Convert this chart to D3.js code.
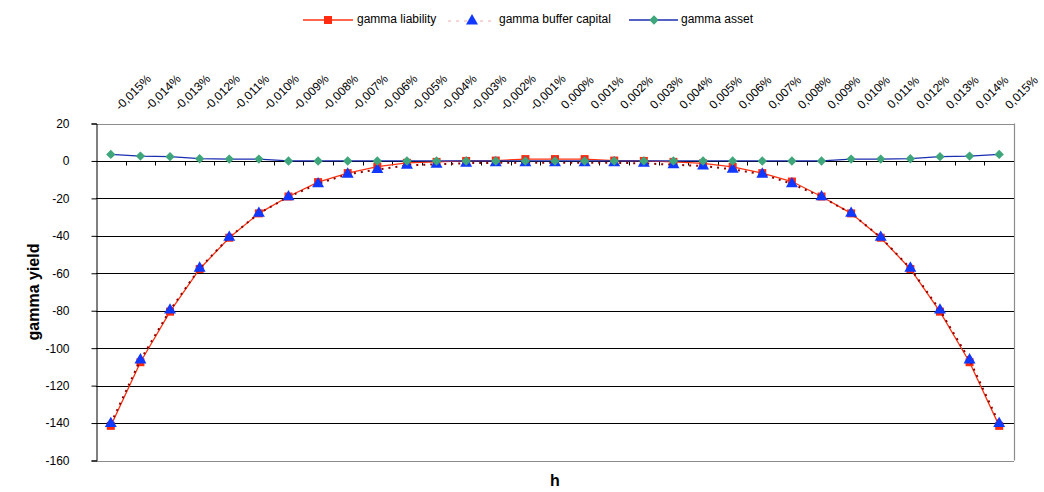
<!DOCTYPE html>
<html>
<head>
<meta charset="utf-8">
<script src="https://cdn.jsdelivr.net/npm/d3@7"></script>
<style>
  html, body { margin: 0; padding: 0; background: #fff; }
  svg { display: block; font-family: "Liberation Sans", Arial, sans-serif; }
</style>
</head>
<body>
<svg id="chart" width="1044" height="492"></svg>
<script>
const categories = ["-0,015%","-0,014%","-0,013%","-0,012%","-0,011%","-0,010%","-0,009%","-0,008%","-0,007%","-0,006%","-0,005%","-0,004%","-0,003%","-0,002%","-0,001%","0,000%","0,001%","0,002%","0,003%","0,004%","0,005%","0,006%","0,007%","0,008%","0,009%","0,010%","0,011%","0,012%","0,013%","0,014%","0,015%"];
const gammaLiability = [-141.5,-107.5,-80.5,-57.7,-41,-28,-19,-11.3,-6.5,-3,-1,-0.5,0,0.2,1,1,1,0.2,0,-0.5,-1.3,-3.2,-6.5,-11,-19,-28,-41,-57.7,-80.5,-107.5,-141.5];
const gammaBuffer = [-140.3,-106.3,-79.7,-57.3,-40.8,-28,-19.2,-12.2,-7.1,-4.6,-2.3,-1.8,-1.2,-1,-1,-1,-1,-1,-1.3,-2,-2.7,-4.5,-7.1,-12.2,-19.2,-28,-40.8,-57.3,-79.7,-106.3,-140.3];
const gammaAsset = [3.5,2.6,2.3,1.2,1,1,0,0,0,0,0,0,0,0,0,0,0,0,0,0,0,0,0,0,0,1,1,1.2,2.3,2.6,3.5];
const yTicks = [20,0,-20,-40,-60,-80,-100,-120,-140,-160];
const seriesNames = ["gamma liability","gamma buffer capital","gamma asset"];

const svg = d3.select("#chart");
const L = 96, R = 1014, T = 123.5, B = 460.5;

const x = d3.scaleBand().domain(categories).range([L, R]).padding(0);
const y = d3.scaleLinear().domain([-160, 20]).range([B, T]);
const cx = c => x(c) + x.bandwidth() / 2;

// gridlines
svg.append("g").selectAll("line")
  .data(yTicks.filter(v => v < 20 && v > -160))
  .join("line")
  .attr("x1", L).attr("x2", R)
  .attr("y1", d => Math.round(y(d)) + 0.5).attr("y2", d => Math.round(y(d)) + 0.5)
  .attr("stroke", "#000").attr("stroke-width", 1);

// plot border (gray)
svg.append("line").attr("x1", L).attr("x2", R).attr("y1", Math.round(T)+0.5).attr("y2", Math.round(T)+0.5).attr("stroke", "#8c8c8c").attr("stroke-width", 1.2);
svg.append("line").attr("x1", L).attr("x2", R).attr("y1", Math.round(B)+0.5).attr("y2", Math.round(B)+0.5).attr("stroke", "#8c8c8c").attr("stroke-width", 1.2);
svg.append("line").attr("x1", R+0.5).attr("x2", R+0.5).attr("y1", T).attr("y2", B).attr("stroke", "#8c8c8c").attr("stroke-width", 1.2);

// y axis
const yAxis = d3.axisLeft(y).tickValues(yTicks).tickSize(5).tickPadding(22).tickFormat(d3.format("d"));
const gy = svg.append("g").attr("transform", `translate(${L + 0.5},0)`).call(yAxis);
gy.select(".domain").attr("stroke", "#000");
gy.selectAll(".tick line").attr("stroke", "#000");
gy.selectAll(".tick text").attr("font-size", 12).attr("fill", "#000")
  .attr("font-family", "Liberation Sans, Arial, sans-serif")
  .text(d => d < 0 ? "-" + Math.abs(d) : d);

// x axis line at zero with ticks downward at category boundaries
const y0 = Math.round(y(0)) + 0.5;
svg.append("line").attr("x1", L).attr("x2", R).attr("y1", y0).attr("y2", y0).attr("stroke", "#000").attr("stroke-width", 1.2);
svg.append("g").selectAll("line")
  .data(categories.slice(1))
  .join("line")
  .attr("x1", d => Math.round(x(d)) + 0.5).attr("x2", d => Math.round(x(d)) + 0.5)
  .attr("y1", y0).attr("y2", y0 + 4)
  .attr("stroke", "#000").attr("stroke-width", 1);

// x labels at top, rotated
svg.append("g").selectAll("text")
  .data(categories)
  .join("text")
  .attr("transform", d => `translate(${cx(d) + 23},${93}) rotate(-45)`)
  .attr("text-anchor", "middle")
  .attr("dominant-baseline", "middle")
  .attr("font-size", 12)
  .attr("fill", "#000")
  .text(d => d);

// series
const lineGen = arr => d3.line().x((d, i) => cx(categories[i])).y(d => y(d))(arr);

// liability
svg.append("path").attr("d", lineGen(gammaLiability)).attr("fill", "none")
  .attr("stroke", "#ff3311").attr("stroke-width", 1.3);
svg.append("g").selectAll("rect").data(gammaLiability).join("rect")
  .attr("x", (d, i) => cx(categories[i]) - 4).attr("y", d => y(d) - 4)
  .attr("width", 8).attr("height", 8).attr("fill", "#ff2a10");

// buffer capital
svg.append("path").attr("d", lineGen(gammaBuffer)).attr("fill", "none")
  .attr("stroke", "#8b0000").attr("stroke-width", 2).attr("stroke-dasharray", "2,5");
const tri = d3.symbol().type(d3.symbolTriangle).size(62);
svg.append("g").selectAll("path").data(gammaBuffer).join("path")
  .attr("d", tri)
  .attr("transform", (d, i) => `translate(${cx(categories[i])},${y(d)})`)
  .attr("fill", "#1038ff");

// asset
svg.append("path").attr("d", lineGen(gammaAsset)).attr("fill", "none")
  .attr("stroke", "#1a2eb0").attr("stroke-width", 1.3);
const dia = d3.symbol().type(d3.symbolSquare).size(44);
svg.append("g").selectAll("path").data(gammaAsset).join("path")
  .attr("d", dia)
  .attr("transform", (d, i) => `translate(${cx(categories[i])},${y(d)}) rotate(45)`)
  .attr("fill", "#3fa57a");

// axis titles
svg.append("text").attr("transform", "translate(39,292) rotate(-90)")
  .attr("text-anchor", "middle").attr("font-size", 16).attr("font-weight", "bold")
  .text("gamma yield");
svg.append("text").attr("x", (L + R) / 2).attr("y", 492 - 6)
  .attr("text-anchor", "middle").attr("font-size", 16).attr("font-weight", "bold")
  .text("h");

// legend
const lg = svg.append("g");
const ly = 20;
// liability
lg.append("line").attr("x1", 303).attr("x2", 353).attr("y1", ly).attr("y2", ly).attr("stroke", "#ff3311").attr("stroke-width", 1.3);
lg.append("rect").attr("x", 324).attr("y", ly - 4).attr("width", 8).attr("height", 8).attr("fill", "#ff2a10");
lg.append("text").attr("x", 357).attr("y", ly + 3).attr("font-size", 12).text(seriesNames[0]);
// buffer
lg.append("line").attr("x1", 448).attr("x2", 495).attr("y1", ly + 1).attr("y2", ly + 1).attr("stroke", "#f2a8a8").attr("stroke-width", 1).attr("stroke-dasharray", "3,5");
lg.append("path").attr("d", tri).attr("transform", `translate(472,${ly + 1})`).attr("fill", "#1038ff");
lg.append("text").attr("x", 499).attr("y", ly + 3).attr("font-size", 12).text(seriesNames[1]);
// asset
lg.append("line").attr("x1", 629).attr("x2", 678).attr("y1", ly).attr("y2", ly).attr("stroke", "#1a2eb0").attr("stroke-width", 1.3);
lg.append("path").attr("d", dia).attr("transform", `translate(654,${ly}) rotate(45)`).attr("fill", "#3fa57a");
lg.append("text").attr("x", 681).attr("y", ly + 3).attr("font-size", 12).text(seriesNames[2]);
</script>
</body>
</html>
